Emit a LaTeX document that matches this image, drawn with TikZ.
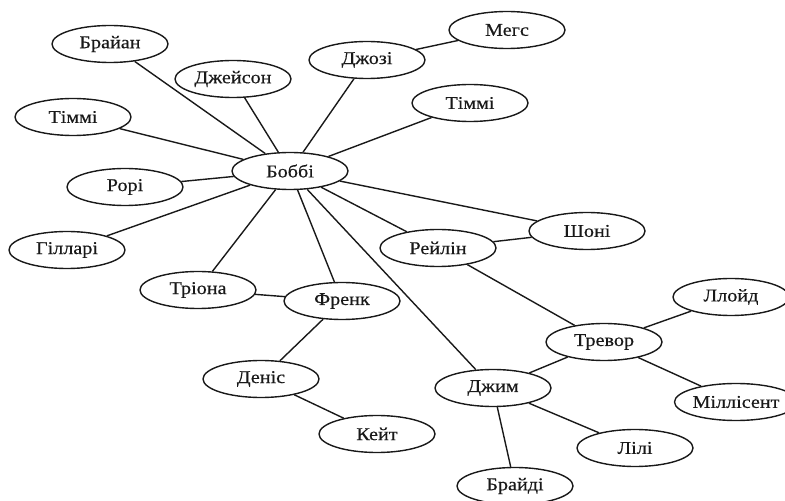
\documentclass[tikz,border=0pt]{standalone}
\usepackage{fontspec}
\setmainfont{Liberation Serif}[FakeStretch=1.12, FakeBold=0.4]
\usepackage{tikz}
\usetikzlibrary{shapes.geometric}
\definecolor{edgegray}{RGB}{25, 25, 25}

\begin{document}
\begin{tikzpicture}[x = 1pt, y = 1pt, line width = 1.4pt, edgegray,
  person/.style = {draw, ellipse, fill = white, minimum width = 116pt, minimum height = 37pt, inner sep = 0pt, font = \fontsize{18}{20}\selectfont}]
\useasboundingbox (0,0) rectangle (785,501);
\node[person] (bobbi) at (290,330) {Боббі};
\node[person] (brian) at (110,457) {Брайан};
\node[person] (jason) at (233,422) {Джейсон};
\node[person] (josie) at (367,441) {Джозі};
\node[person] (megs) at (507,471) {Мегс};
\node[person] (timmyl) at (73,384) {Тіммі};
\node[person] (timmyr) at (470,398) {Тіммі};
\node[person] (rory) at (125,314) {Рорі};
\node[person] (hillary) at (67,251) {Гілларі};
\node[person] (shoni) at (587,270) {Шоні};
\node[person] (raylin) at (438,253) {Рейлін};
\node[person] (triona) at (198,211) {Тріона};
\node[person] (frank) at (342,200) {Френк};
\node[person] (denis) at (261,122) {Деніс};
\node[person] (kate) at (377,67) {Кейт};
\node[person] (lloyd) at (731,204) {Ллойд};
\node[person] (trevor) at (604,159) {Тревор};
\node[person] (jim) at (493,113) {Джим};
\node[person] (millicent) at (736,99) {Міллісент};
\node[person] (lily) at (635,53) {Лілі};
\node[person] (bridie) at (515,15) {Брайді};
% edges from the centre
\foreach \n in {brian, jason, josie, timmyl, timmyr, rory, hillary, shoni, raylin, triona, frank, jim}
  \draw (bobbi) -- (\n);
\draw (josie) -- (megs);
\draw (raylin) -- (shoni);
\draw (raylin) -- (trevor);
\draw (triona) -- (frank);
\draw (frank) -- (denis);
\draw (denis) -- (kate);
\draw (trevor) -- (lloyd);
\draw (trevor) -- (millicent);
\draw (trevor) -- (jim);
\draw (jim) -- (lily);
\draw (jim) -- (bridie);
\end{tikzpicture}
\end{document}
